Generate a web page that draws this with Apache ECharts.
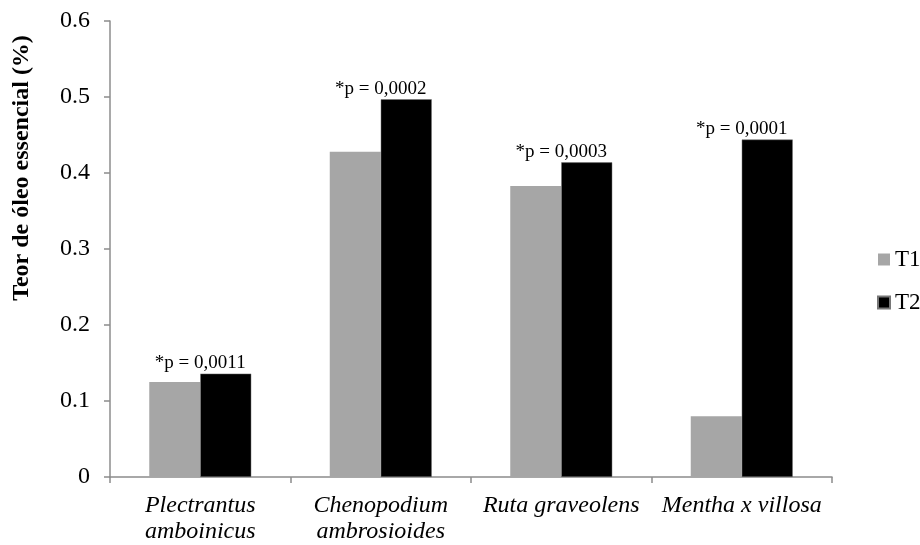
<!DOCTYPE html>
<html>
<head>
<meta charset="utf-8">
<script src="https://cdn.jsdelivr.net/npm/echarts@6/dist/echarts.min.js"></script>
<style>
  html, body { margin: 0; padding: 0; background: #fff; }
  #chart { width: 920px; height: 545px; }
</style>
</head>
<body>
<div id="chart"></div>
<script>
// Essential oil content per species under two treatments
const categories = ['Plectrantus\namboinicus', 'Chenopodium\nambrosioides', 'Ruta graveolens', 'Mentha x villosa'];
const t1Values = [0.125, 0.428, 0.383, 0.080];
const t2Values = [0.136, 0.497, 0.414, 0.444];
const pLabels = ['*p = 0,0011', '*p = 0,0002', '*p = 0,0003', '*p = 0,0001'];
const yTicks = [0, 0.1, 0.2, 0.3, 0.4, 0.5, 0.6];
const yTitle = 'Teor de óleo essencial (%)';

const FONT = '"Liberation Serif", "Times New Roman", serif';
const axisGray = '#8c8c8c';

const chart = echarts.init(document.getElementById('chart'));
chart.setOption({
  animation: false,
  backgroundColor: '#fff',
  textStyle: { fontFamily: FONT, color: '#000' },
  grid: { left: 110, right: 88, top: 21, bottom: 64 },
  // vertical axis title, placed toward the upper part of the axis
  graphic: [{
    type: 'text',
    x: 22,
    y: 168,
    rotation: Math.PI / 2,
    style: {
      text: yTitle,
      font: 'bold 24px ' + FONT,
      fill: '#000',
      align: 'center',
      verticalAlign: 'middle'
    }
  }],
  legend: {
    orient: 'vertical',
    left: 872,
    top: 243,
    itemWidth: 12,
    itemHeight: 12,
    itemGap: 20,
    icon: 'rect',
    textStyle: { fontFamily: FONT, fontSize: 23, color: '#000' },
    data: ['T1', 'T2']
  },
  xAxis: {
    type: 'category',
    data: categories,
    axisLine: { lineStyle: { color: axisGray, width: 1.5 } },
    axisTick: { show: true, length: 6, lineStyle: { color: axisGray, width: 1.5 } },
    axisLabel: {
      fontFamily: FONT, fontSize: 24, fontStyle: 'italic', color: '#000',
      margin: 16, lineHeight: 26, interval: 0
    }
  },
  yAxis: {
    type: 'value',
    min: yTicks[0],
    max: yTicks[yTicks.length - 1],
    interval: 0.1,
    splitLine: { show: false },
    axisLine: { show: true, lineStyle: { color: axisGray, width: 1.5 } },
    axisTick: { show: true, length: 6, lineStyle: { color: axisGray, width: 1.5 } },
    axisLabel: {
      fontFamily: FONT, fontSize: 24, color: '#000', margin: 20,
      formatter: v => (v === 0 ? '0' : v.toFixed(1))
    }
  },
  series: [
    {
      name: 'T1',
      type: 'bar',
      data: t1Values,
      barWidth: 51,
      barGap: '0%',
      itemStyle: { color: '#a6a6a6' }
    },
    {
      name: 'T2',
      type: 'bar',
      data: t2Values,
      barWidth: 51,
      barGap: '0%',
      itemStyle: { color: '#000', borderColor: '#777', borderWidth: 0.5 },
      label: {
        show: true,
        position: 'top',
        distance: 1,
        offset: [-25.5, 0],
        fontFamily: FONT,
        fontSize: 19,
        color: '#000',
        formatter: p => pLabels[p.dataIndex]
      }
    }
  ]
});
</script>
</body>
</html>
